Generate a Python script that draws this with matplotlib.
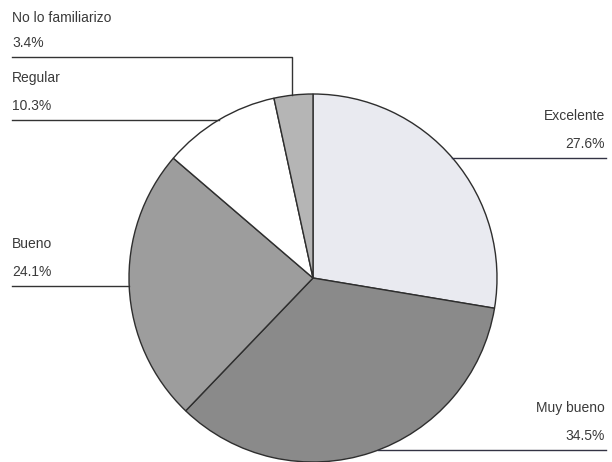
import numpy as np
import matplotlib
matplotlib.use("Agg")
import matplotlib.pyplot as plt

# Datos del gráfico
categorias = ["Excelente", "Muy bueno", "Bueno", "Regular", "No lo familiarizo"]
porcentajes = [27.6, 34.5, 24.1, 10.3, 3.4]
colores = ["#e9eaf0", "#8a8a8a", "#9d9d9d", "#ffffff", "#b5b5b5"]

W, H = 612, 462
plt.rcParams['font.family'] = ['Liberation Sans', 'DejaVu Sans']

fig = plt.figure(figsize=(W / 100, H / 100), dpi=100)
ax = fig.add_axes([0, 0, 1, 1])

# centro y radio del pastel en pixeles (y hacia arriba)
cx, cy, r = 313, H - 278, 184

ax.pie(porcentajes, colors=colores, startangle=90, counterclock=False,
       center=(cx, cy), radius=r,
       wedgeprops=dict(edgecolor="#2e2e2e", linewidth=1.0))
ax.set_xlim(0, W)
ax.set_ylim(0, H)
ax.set_aspect("equal")
ax.axis("off")

col_txt = "#3a3a3a"
fs = 10


def borde_x(y_px, lado):
    # x del borde del circulo a una altura dada (en pixeles desde arriba)
    dy = (H - y_px) - cy
    return cx + lado * np.sqrt(r ** 2 - dy ** 2)


# etiquetas: (indice, y linea, lado)
etiquetas = [(0, 158, 1), (1, 450, 1), (2, 286, -1), (3, 120, -1)]
for i, yl, lado in etiquetas:
    xb = borde_x(yl, lado)
    if lado == 1:
        ax.plot([xb, 606], [H - yl, H - yl], color="#333344", lw=1)
        xt, ha = 605, "right"
    else:
        ax.plot([12, xb], [H - yl, H - yl], color="#333333", lw=1)
        xt, ha = 12, "left"
    ax.text(xt, H - yl + 7, f"{porcentajes[i]}%", ha=ha, va="bottom",
            fontsize=fs, color=col_txt)
    ax.text(xt, H - yl + 35, categorias[i], ha=ha, va="bottom",
            fontsize=fs, color=col_txt)

# "No lo familiarizo": linea horizontal y luego vertical hasta el pastel
xv = 292
ytop = cy + np.sqrt(r ** 2 - (xv - cx) ** 2)
ax.plot([12, xv, xv], [H - 57, H - 57, ytop], color="#333333", lw=1)
ax.text(12, H - 57 + 7, f"{porcentajes[4]}%", ha="left", va="bottom",
        fontsize=fs, color=col_txt)
ax.text(12, H - 57 + 32, categorias[4], ha="left", va="bottom",
        fontsize=fs, color=col_txt)

fig.savefig("out.png", dpi=100)
